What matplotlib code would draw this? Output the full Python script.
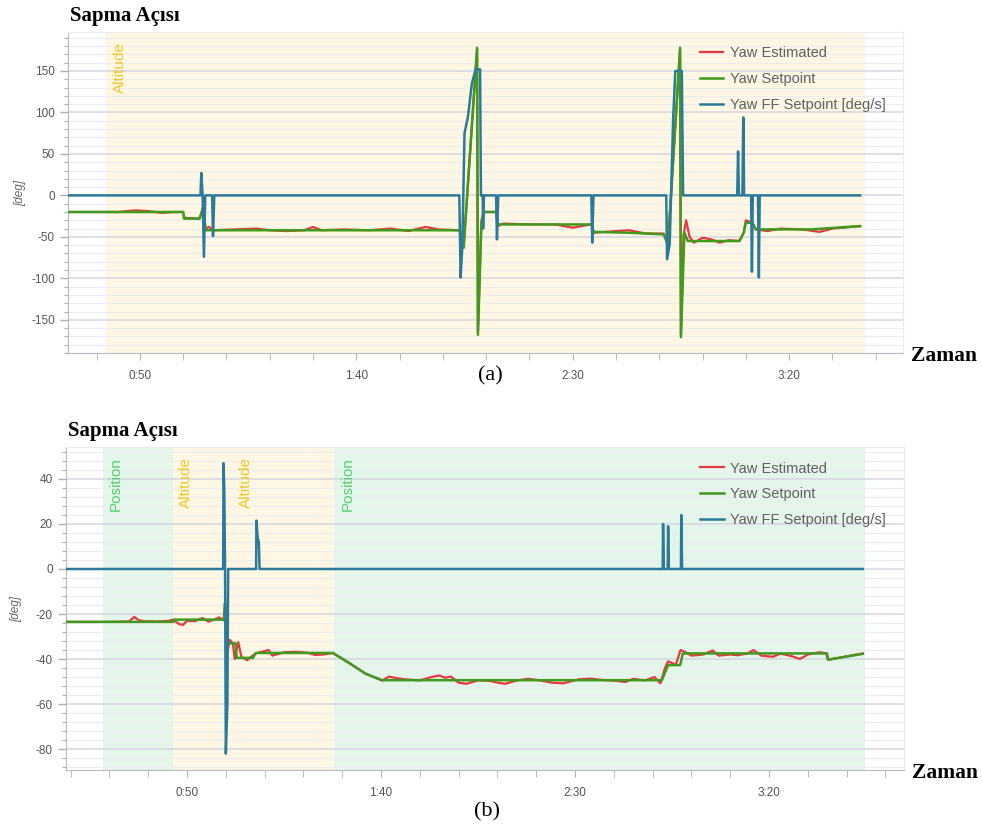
import matplotlib
matplotlib.use("Agg")
import matplotlib.pyplot as plt
from matplotlib.ticker import MultipleLocator, FuncFormatter
import matplotlib.transforms as mtransforms

plt.rcParams["axes.unicode_minus"] = False

# ---------------- data: panel (a) ----------------
a_est_t = [33.4, 45, 49, 52, 55, 58, 60, 60.3, 63.8, 64.6, 65.2, 66, 67, 72, 77, 80, 84, 88, 90, 92, 97, 103, 108,
           112, 116, 119, 123.9, 124.8, 127.9, 128.1, 128.9, 129.4, 132.3, 132.7, 134, 140, 146, 150, 153, 154.4,
           154.8, 160, 163, 167, 171, 172, 174.8, 175.0, 175.6, 176.2, 177, 178, 180, 182, 184, 186, 188.5, 189.5,
           190, 191.5, 192.3, 195, 198, 203, 207, 210, 216.4]
a_est_v = [-20, -20, -18, -19, -21, -20, -20, -27, -28, -15, -40, -38, -42, -41, -40, -42, -43, -42, -38, -42, -41, -42, -40,
           -43, -38, -41, -42, -63, 175, -165, -30, -20, -20, -37, -34, -35, -35, -39, -36, -35,
           -45, -43, -42, -46, -46, -59, 175, -168, -48, -30, -50, -57, -51, -53, -57, -54, -55, -45,
           -30, -33, -41, -43, -40, -41, -44, -40, -37]

a_sp_t = [33.4, 60.0, 60.2, 63.8, 64.6, 65.2, 123.9, 124.8, 127.9, 128.1, 128.9, 129.4, 132.3, 132.7, 154.4, 154.8,
          163, 171.0, 172.0, 174.8, 175.0, 175.8, 176.6, 188.5, 189.5, 190.0, 191.5, 192.3, 205, 216.4]
a_sp_v = [-20, -20, -28, -28, -15, -42, -42, -63, 178, -168, -35, -20, -20, -35, -35, -44,
          -45, -47, -59, 178, -171, -45, -55, -55, -45, -33, -33, -41, -41, -37]

a_ff_t = [33.4, 64.0, 64.2, 64.5, 64.8, 65.1, 66.7, 66.9, 67.2, 123.8, 124.1, 124.5, 125.0, 125.8, 126.7, 127.6,
          128.6, 128.8, 129.2, 129.3, 129.5, 132.3, 132.5, 132.8, 154.3, 154.5, 154.8, 171.6, 171.8, 172.4, 173.2,
          173.7, 175.2, 175.5, 188.0, 188.2, 188.4, 189.2, 189.4, 189.6, 191.2, 191.4, 191.6, 192.8, 193.0, 193.2, 216.4]
a_ff_v = [0, 0, 27, 0, -74, 0, 0, -49, 0, 0, -99, -60, 75, 95, 135, 152,
          152, 0, 0, -40, 0, 0, -53, 0, 0, -57, 0, 0, -77, -59, 92,
          150, 150, 0, 0, 53, 0, 0, 94, 0, 0, -92, 0, 0, -99, 0, 0]

a_modes = [(42.2, 217.6, "Altitude")]

# ---------------- data: panel (b) ----------------
b_est_t = [18.8, 30, 35, 36.4, 37.6, 39, 42, 45, 46.4, 48, 49, 50, 52, 54, 55.5, 57, 58.3, 59.4, 59.8, 60.3, 61,
           61.8, 62.3, 63.2, 64, 65.5, 66.5, 67.7, 71, 72, 75, 78, 81, 83, 85, 87.6, 92, 96, 100.3, 102, 104, 106,
           110, 113, 115, 116.5, 118, 120, 122, 125, 128, 130, 132, 135, 138, 141, 144, 147, 151, 154, 157, 160,
           163, 165, 168, 170.5, 172, 173.2, 174, 176, 177.2, 178.5, 180, 183, 185.5, 187, 190, 192, 194.5, 196,
           198, 201, 203, 206, 208, 210, 213, 215, 215.2, 224.2]
b_est_v = [-23.5, -23.5, -23.3, -21.3, -22.8, -23.2, -23.3, -23.1, -22.6, -24.5, -24.8, -23, -23.2, -21.8, -23.4, -22.5,
           -21.5, -22.8, -15, -38, -31.5, -33, -40, -32.5, -39, -40.5, -39, -37.5, -36, -38.5, -37, -36.8, -37.2,
           -38.2, -38, -37.3, -42, -46.5, -49.6, -47.8, -48.5, -49, -49.5, -48, -47.3, -48.3, -47.8, -50.5, -51,
           -49.5, -49.7, -50.5, -51, -49.5, -48.8, -49.5, -50.5, -50.8, -49, -48.7, -49.3, -49.6, -50.2, -48.8,
           -49.5, -48, -50.8, -44, -41, -42.5, -36, -37, -38.5, -38, -36.2, -38.5, -38, -38.3, -37.5, -36, -38.5,
           -39, -37.6, -38.8, -40, -38, -37, -37.5, -40.3, -37.5]

b_sp_t = [18.8, 46.4, 46.6, 59.6, 59.8, 60.3, 62.5, 62.8, 67, 67.7, 87.6, 92, 96, 100.3, 172.4, 174.0, 177.1,
          177.8, 214.8, 215.2, 224.2]
b_sp_v = [-23.5, -23.5, -22.5, -22.5, -15, -33, -33, -39.5, -39.5, -37.3, -37.3, -42, -46.5, -49.4, -49.4, -42.7,
          -42.7, -37.5, -37.5, -40.3, -37.7]

b_ff_t = [18.8, 59.3, 59.4, 59.6, 59.8, 60.0, 60.4, 60.6, 67.8, 67.9, 68.2, 68.5, 68.7, 172.6, 172.7, 172.9,
          173.9, 174.0, 174.2, 177.3, 177.4, 177.6, 224.2]
b_ff_v = [0, 0, 47, 35, 0, -82, -60, 0, 0, 21.5, 14, 12, 0, 0, 20, 0,
          0, 19, 0, 0, 24, 0, 0]

b_modes = [(28.3, 46.4, "Position"), (46.4, 61.8, "Altitude"), (61.8, 87.9, "Altitude"), (87.9, 224.8, "Position")]

series_labels = ["Yaw Estimated", "Yaw Setpoint", "Yaw FF Setpoint [deg/s]"]

# ---------------- style ----------------
C_EST = "#e8383d"
C_SP = "#3f9a1e"
C_FF = "#2c7a99"
MODE_BG = {"Altitude": "#fdf7e3", "Position": "#e4f6ea"}
MODE_TXT = {"Altitude": "#f2c81e", "Position": "#4fd36c"}
SANS = ["Liberation Sans", "DejaVu Sans"]
SERIF = ["Liberation Serif", "DejaVu Serif"]

W, H = 982, 834
fig = plt.figure(figsize=(W / 100, H / 100), dpi=100)


def mmss(x, pos):
    x = int(round(x))
    return f"{x // 60}:{x % 60:02d}"


def panel(rect, est, sp, ff, modes, xlim, ylim, ymaj, ymin):
    l, t, r, b = rect
    ax = fig.add_axes([l / W, 1 - b / H, (r - l) / W, (b - t) / H])
    ax.set_xlim(*xlim)
    ax.set_ylim(*ylim)
    ax.set_facecolor("white")
    for x0, x1, name in modes:
        ax.axvspan(x0, x1, color=MODE_BG[name], zorder=0.1, lw=0)
    ax.set_axisbelow(True)
    ax.yaxis.set_major_locator(MultipleLocator(ymaj))
    ax.yaxis.set_minor_locator(MultipleLocator(ymin))
    ax.xaxis.set_major_locator(MultipleLocator(50))
    ax.xaxis.set_minor_locator(MultipleLocator(10))
    ax.xaxis.set_major_formatter(FuncFormatter(mmss))
    ax.grid(True, axis="y", which="major", color="#d6d6e2", lw=1.1, zorder=0.5)
    ax.grid(True, axis="y", which="minor", color="#ebebf0", lw=0.8, zorder=0.5)
    ax.tick_params(axis="both", which="both", colors="#b0b0b0", labelcolor="#555555",
                   labelsize=8.5, direction="out")
    ax.tick_params(axis="y", which="major", length=6, width=1)
    ax.tick_params(axis="y", which="minor", length=3, width=0.8)
    ax.tick_params(axis="x", which="major", length=5, pad=7)
    ax.tick_params(axis="x", which="minor", length=5)
    for lab in ax.get_xticklabels() + ax.get_yticklabels():
        lab.set_fontfamily(SANS)
    for s in ("top", "right"):
        ax.spines[s].set_color("#ececf0")
    for s in ("left", "bottom"):
        ax.spines[s].set_color("#b8b8c0")
    ax.plot(est[0], est[1], color=C_EST, lw=1.6, label=series_labels[0], zorder=3)
    ax.plot(sp[0], sp[1], color=C_SP, lw=1.8, label=series_labels[1], zorder=4)
    ax.plot(ff[0], ff[1], color=C_FF, lw=1.8, label=series_labels[2], zorder=5)
    trans = mtransforms.blended_transform_factory(ax.transData, ax.transAxes)
    for x0, x1, name in modes:
        ax.text(x0 + 1.6, 0.97, name, rotation=90, va="top", ha="left", transform=trans,
                color=MODE_TXT[name], fontsize=11, family=SANS, zorder=6)
    leg = ax.legend(loc="upper left", bbox_to_anchor=(0.757, 0.955), frameon=False, borderpad=0,
                    borderaxespad=0, handlelength=1.6, handletextpad=0.45, labelspacing=0.82,
                    prop={"family": SANS, "size": 10.5})
    for txt in leg.get_texts():
        txt.set_color("#606060")
    fig.text(l / W + 0.002, 1 - (t - 16) / H, "Sapma Açısı", family=SERIF, weight="bold",
             fontsize=15, va="center", ha="left")
    fig.text((r + 8) / W, 1 - (b + 3) / H, "Zaman", family=SERIF, weight="bold",
             fontsize=15.5, va="center", ha="left")
    ax.set_ylabel("[deg]", family=SANS, style="italic", fontsize=8.5, color="#666666")
    return ax


ax1 = panel((68, 32, 903, 353), (a_est_t, a_est_v), (a_sp_t, a_sp_v), (a_ff_t, a_ff_v), a_modes,
            (33.4, 226.3), (-190, 197), 50, 10)
ax1.yaxis.set_label_coords(-0.05, 0.5)
fig.text(490 / W, 1 - 376 / H, "(a)", family=SERIF, fontsize=16, ha="center", va="center")

ax2 = panel((66, 447, 904, 770), (b_est_t, b_est_v), (b_sp_t, b_sp_v), (b_ff_t, b_ff_v), b_modes,
            (18.8, 234.8), (-89.3, 54.2), 20, 4)
ax2.yaxis.set_label_coords(-0.052, 0.5)
fig.text(487 / W, 1 - 812 / H, "(b)", family=SERIF, fontsize=16, ha="center", va="center")

fig.savefig("out.png", dpi=100)
